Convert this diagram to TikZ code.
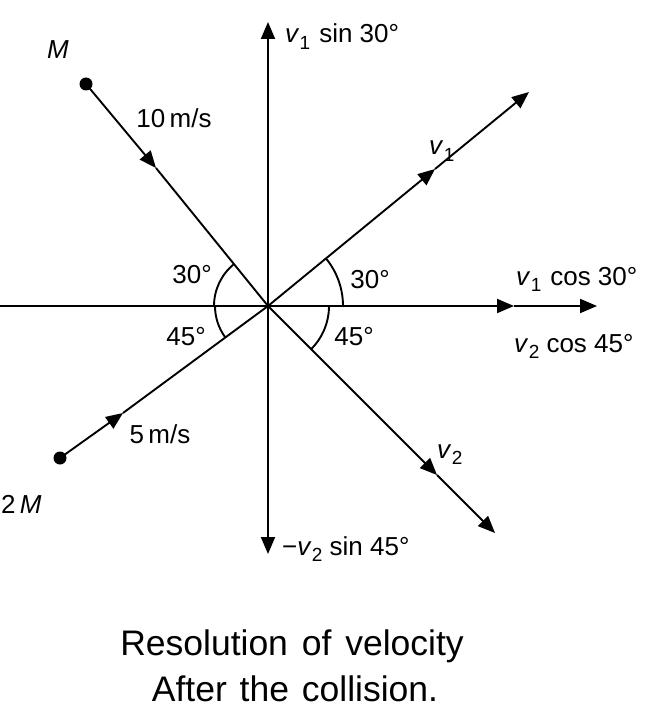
\documentclass[tikz,border=0pt]{standalone}
\usepackage{fontspec}
\setmainfont{Liberation Sans}
\usetikzlibrary{arrows.meta}
\newcommand{\vsub}[1]{\textit{v}\kern0.3pt\raisebox{-6.5pt}{\fontsize{19}{19}\selectfont #1}}
\begin{document}
\begin{tikzpicture}[x=1pt,y=-1pt,
  line/.style={line width=1.9pt},
  vec/.style={line width=1.9pt,-{Triangle[length=17pt,width=14pt]}},
  dot/.style={circle,fill=black,inner sep=0pt,minimum size=13pt},
  lbl/.style={inner sep=0pt,font=\fontsize{26}{30}\selectfont},
  captxt/.style={inner sep=0pt,font=\fontsize{35.5}{40}\selectfont}]
\useasboundingbox (0,0) rectangle (645,714);
% key points
\coordinate (O) at (268,306);
\coordinate (top) at (268,22);
\coordinate (bot) at (268,554);
\coordinate (lft) at (0,306);
\coordinate (hmid) at (514,306);
\coordinate (rgt) at (597,306);
\coordinate (v1end) at (529,92);
\coordinate (v1mid) at (435,169);
\coordinate (v2end) at (495,533);
\coordinate (v2mid) at (437,475);
\coordinate (mmid) at (156,168);
\coordinate (tmid) at (123,413);
\node[dot] (Mdot) at (86,84) {};
\node[dot] (TMdot) at (60,458) {};
% axes
\draw[vec] (O) -- (top);
\draw[vec] (O) -- (bot);
\draw[line] (lft) -- (O);
\draw[vec] (O) -- (hmid);
\draw[vec] (hmid) -- (rgt);
% incoming
\draw[vec] (Mdot.center) -- (mmid);
\draw[line] (mmid) -- (O);
\draw[vec] (TMdot.center) -- (tmid);
\draw[line] (tmid) -- (O);
% outgoing
\draw[vec] (O) -- (v1mid);
\draw[vec] (v1mid) -- (v1end);
\draw[vec] (O) -- (v2mid);
\draw[vec] (v2mid) -- (v2end);
% angle arcs
\draw[line] (O) ++(180:54) arc[start angle=180,end angle=230.66,radius=54];
\draw[line] (O) ++(180:53) arc[start angle=180,end angle=143.84,radius=53];
\draw[line] (O) ++(0:75) arc[start angle=0,end angle=-39.46,radius=75];
\draw[line] (O) ++(0:61) arc[start angle=0,end angle=45.1,radius=61];
% labels
\node[lbl] (lM) at (58,50) {\textit{M}};
\node[lbl,anchor=base] (l10) at (174,128) {10\,m/s};
\node[lbl,anchor=base] (a30l) at (192,283) {30°};
\node[lbl,anchor=base west] (lsin1) at (285,43) {\vsub{1}\hspace{9pt}sin 30°};
\node[lbl,anchor=base west] (lv1) at (429,155) {\vsub{1}};
\node[lbl,anchor=base] (a30r) at (370,288) {30°};
\node[lbl,anchor=base west] (lcos1) at (516,285) {\vsub{1}\hspace{9pt}cos 30°};
\node[lbl,anchor=base west] (lcos2) at (514,352) {\vsub{2} cos 45°};
\node[lbl,anchor=base] (a45l) at (186,345) {45°};
\node[lbl,anchor=base] (a45r) at (354,345) {45°};
\node[lbl,anchor=base] (l5) at (160,443) {5\,m/s};
\node[lbl,anchor=base west] (lv2) at (437,458) {\vsub{2}};
\node[lbl,anchor=base west] (l2M) at (1,513) {2\,\textit{M}};
\node[lbl,anchor=base west] (lsin2) at (282,555) {−\vsub{2} sin 45°};
\node[captxt,anchor=base] (c1) at (292,655) {Resolution\hspace{4pt} of\hspace{4pt} velocity};
\node[captxt,anchor=base] (c2) at (295,701) {After\hspace{3pt} the\hspace{3pt} collision.};
\end{tikzpicture}
\end{document}
